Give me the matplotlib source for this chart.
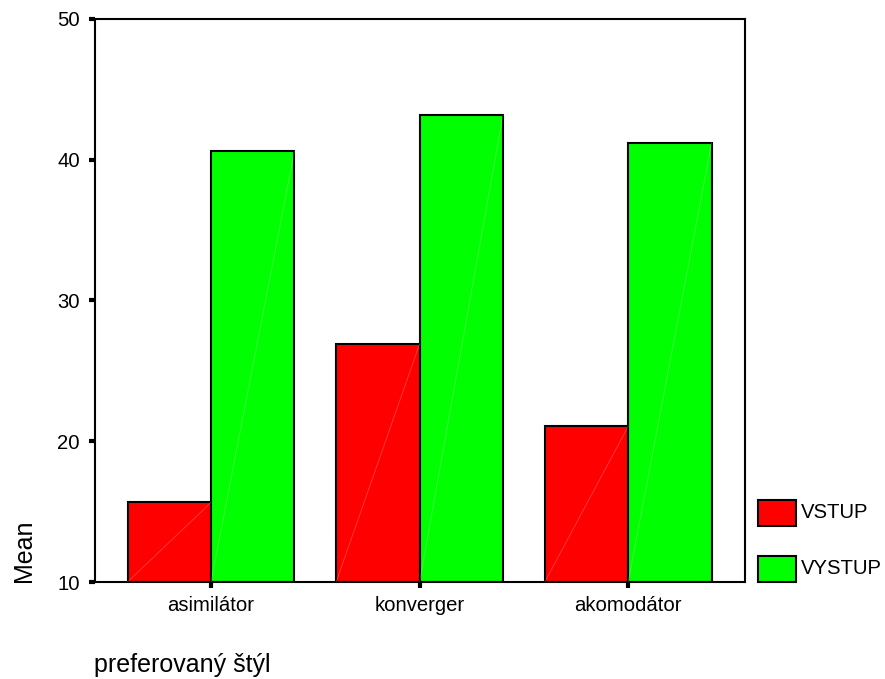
import matplotlib
matplotlib.use("Agg")
import matplotlib.pyplot as plt
from matplotlib.patches import Rectangle
import numpy as np

plt.rcParams['font.family'] = ['Liberation Sans', 'DejaVu Sans']

categories = ["asimilátor", "konverger", "akomodátor"]
series_names = ["VSTUP", "VYSTUP"]
vstup = [15.65, 26.9, 21.05]
vystup = [40.6, 43.2, 41.2]
series_colors = ["#ff0000", "#00ff00"]
yticks = [10, 20, 30, 40, 50]

fig = plt.figure(figsize=(8.85, 6.79), dpi=100)
ax = fig.add_axes([95 / 885, 1 - 582 / 679, 650 / 885, 563 / 679])

x = np.arange(len(categories))
width = 0.40
base = 10
all_bars = []
for i, (vals, color) in enumerate(zip([vstup, vystup], series_colors)):
    offs = (i - 0.5) * width
    bars = ax.bar(x + offs, np.array(vals) - base, width, bottom=base,
                  color=color, edgecolor="black", linewidth=1.5, zorder=2)
    all_bars.append(bars)

# faint diagonal sheen across each bar
for bars in all_bars:
    for b in bars:
        x0, y0 = b.get_x(), b.get_y()
        ax.plot([x0, x0 + b.get_width()], [y0, y0 + b.get_height()],
                color="white", alpha=0.25, linewidth=0.6, zorder=3)

ax.set_xlim(-0.556, 2.56)
ax.set_ylim(10, 50)
ax.set_yticks(yticks)
ax.set_xticks(x)
ax.set_xticklabels(categories)
for s in ax.spines.values():
    s.set_linewidth(1.5)
ax.tick_params(axis="both", direction="out", length=4, width=3, labelsize=14.6)
ax.tick_params(axis="y", pad=7)
ax.tick_params(axis="x", pad=6)

fig.text(24 / 885, 1 - 582 / 679, "Mean", rotation=90, ha="center", va="bottom",
         fontsize=18)
fig.text(94 / 885, 1 - 672 / 679, "preferovaný štýl", ha="left", va="baseline",
         fontsize=18)

# legend at the right of the plot
for k, (name, color) in enumerate(zip(series_names, series_colors)):
    top = 500 + k * 56
    fig.patches.append(Rectangle((758 / 885, 1 - (top + 26) / 679), 38 / 885, 26 / 679,
                                 transform=fig.transFigure, facecolor=color,
                                 edgecolor="black", linewidth=1.5))
    fig.text(801 / 885, 1 - (top + 13) / 679, name, ha="left", va="center",
             fontsize=14.6)

fig.savefig("out.png", dpi=100)
